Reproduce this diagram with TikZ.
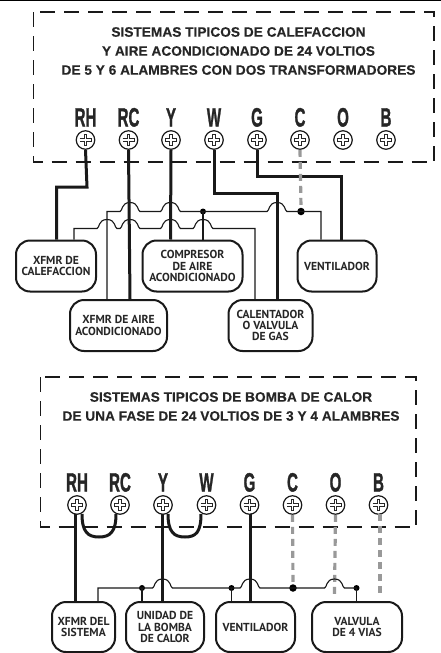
\documentclass[tikz,border=0pt]{standalone}
\usepackage{fontspec}
\setmainfont{Liberation Sans}
\newfontfamily\boxfont{PT Sans}
\newfontfamily\termfont[FakeBold=1.6]{Liberation Sans Bold}
\newfontfamily\titlefont[FakeBold=0.25]{Liberation Sans Bold}
\tikzset{
  dashbox/.style={draw=black!90,line width=1.6pt,dash pattern=on 15pt off 9pt},
  wire/.style={draw=black!90,line width=3pt,line join=miter},
  thin wire/.style={draw=black!90,line width=1.1pt},
  grey wire/.style={draw=black!40,line width=3.2pt,dash pattern=on 7pt off 5pt},
  unit/.style={draw=black!90,line width=2pt,rounded corners=14pt,fill=white,align=center,
     inner sep=0pt,font=\boxfont\bfseries\fontsize{11.6}{11.4}\selectfont,text=black!85},
  title/.style={align=center,font=\titlefont\fontsize{13.7}{19}\selectfont,text=black!85},
  term/.style={font=\termfont\fontsize{26.5}{26.5}\selectfont,xscale=.57,inner sep=0pt,text=black!85,anchor=base},
  screw/.style={circle,draw=black!90,line width=1.2pt,fill=white,minimum size=18.5pt,inner sep=0pt,
    path picture={
      \draw[black!85,line width=3.2pt] ([xshift=-6pt]path picture bounding box.center)--([xshift=6pt]path picture bounding box.center);
      \draw[black!85,line width=3.2pt] ([yshift=-6pt]path picture bounding box.center)--([yshift=6pt]path picture bounding box.center);
      \draw[white,line width=1.7pt] ([xshift=-5.4pt]path picture bounding box.center)--([xshift=5.4pt]path picture bounding box.center);
      \draw[white,line width=1.7pt] ([yshift=-5.4pt]path picture bounding box.center)--([yshift=5.4pt]path picture bounding box.center);
    }},
  joint/.style={circle,fill=black,inner sep=0pt,minimum size=#1}
}
% hop over a vertical wire at x=#1, on a horizontal run at y=#2
\newcommand{\hopat}[2]{-- (#1-10,#2) .. controls (#1-7.5,#2) and (#1-9,#2-9) .. (#1,#2-9) .. controls (#1+9,#2-9) and (#1+7.5,#2) .. (#1+10,#2)}
\begin{document}
\begin{tikzpicture}[x=1pt,y=-1pt]
\useasboundingbox (0,0) rectangle (441,653);
\fill[black] (0,0) rectangle (441,1.2);

% ---------- upper panel
\draw[dashbox] (33.5,12) rectangle (434,162);
\node[title] (t1title) at (238.5,51) {SISTEMAS TIPICOS DE CALEFACCION\\Y AIRE ACONDICIONADO DE 24 VOLTIOS\\DE 5 Y 6 ALAMBRES CON DOS TRANSFORMADORES};

\foreach \n/\x/\l in {a1/85.5/RH,a2/128.5/RC,a3/171/Y,a4/214/W,a5/257/G,a6/300/C,a7/343/O,a8/386/B}{
  \node[term] (l\n) at (\x,126.5) {\l};
}

\node[unit,minimum width=80pt,minimum height=51pt] (xc) at (56,266) {XFMR DE\\CALEFACCION};
\node[unit,minimum width=100pt,minimum height=51pt] (cp) at (192.5,266) {COMPRESOR\\DE AIRE\\ACONDICIONADO};
\node[unit,minimum width=79pt,minimum height=51pt] (vn) at (337,266) {VENTILADOR};
\node[unit,minimum width=97pt,minimum height=51pt] (xa) at (118.5,325.5) {XFMR DE AIRE\\ACONDICIONADO};
\node[unit,minimum width=84pt,minimum height=51pt] (ca) at (270.5,325.5) {CALENTADOR\\O VALVULA\\DE GAS};

\foreach \n/\x in {a1/85.5,a2/128.5,a3/171,a4/214,a5/257,a6/300,a7/343,a8/386}{
  \node[screw] (\n) at (\x,140) {};
}
\node[joint=7.5pt] (ja) at (301,211.5) {};
\node[joint=6pt] (jb) at (203,211.5) {};

\draw[wire] (a1.south) -- (87,187) -- (56.5,187) -- (56.5,0 |- xc.north);
\draw[wire] (a2.south) -- (130,0 |- xa.north);
\draw[wire] (a3.south) -- (170.5,0 |- cp.north);
\draw[wire] (a4.south) -- (214,193.5) -- (277,193.5) -- (277,0 |- ca.north);
\draw[wire] (a5.south) -- (257,176) -- (341,176) -- (341,0 |- vn.north);
\draw[grey wire] (a6.south) -- (ja.north);

\draw[thin wire] (107,0 |- xa.north) -- (107,211.5) \hopat{130}{211.5} \hopat{170.5}{211.5} -- (jb.center) \hopat{277}{211.5} -- (ja.center) -- (321,211.5) -- (321,0 |- vn.north);
\draw[thin wire] (74,0 |- xc.north) -- (74,228.5) \hopat{107}{228.5} \hopat{130}{228.5} \hopat{170.5}{228.5} \hopat{203}{228.5} -- (255,228.5) -- (255,0 |- ca.north);
\draw[thin wire] (jb.center) -- (203,0 |- cp.north);

% ---------- lower panel
\draw[dashbox] (40.5,377) rectangle (416,527);
\node[title] (t2title) at (231,406.5) {SISTEMAS TIPICOS DE BOMBA DE CALOR\\DE UNA FASE DE 24 VOLTIOS DE 3 Y 4 ALAMBRES};

\foreach \n/\x/\l in {b1/77/RH,b2/120/RC,b3/163/Y,b4/206.5/W,b5/249.5/G,b6/292.5/C,b7/335.5/O,b8/378.5/B}{
  \node[term] (l\n) at (\x,491.5) {\l};
}

\node[unit,minimum width=63pt,minimum height=50pt] (xs) at (83.5,627) {XFMR DEL\\SISTEMA};
\node[unit,minimum width=78pt,minimum height=50pt] (ub) at (165,627) {UNIDAD DE\\LA BOMBA\\DE CALOR};
\node[unit,minimum width=79pt,minimum height=50pt] (v2) at (255.5,627) {VENTILADOR};
\node[unit,minimum width=90pt,minimum height=50pt] (vv) at (357,627) {VALVULA\\DE 4 VIAS};

\foreach \n/\x in {b1/77,b2/120,b3/163,b4/206.5,b5/249.5,b6/292.5,b7/335.5,b8/378.5}{
  \node[screw] (\n) at (\x,505) {};
}
\node[joint=6pt] (jc) at (142,588) {};
\node[joint=6pt] (jd) at (231.5,588) {};
\node[joint=7.5pt] (je) at (293,588) {};
\node[joint=6pt] (jf) at (356.5,588) {};
\coordinate (oe) at (334.5,594);
\coordinate (be) at (380,594);

\draw[wire] (75.5,514) -- (75.5,0 |- xs.north);
\draw[wire] (162.5,514) -- (162.5,0 |- ub.north);
\draw[wire] (250,514) -- (250,0 |- v2.north);
\draw[wire] (82,514) .. controls (82,532) and (88,537) .. (99,537) .. controls (110,537) and (116,532) .. (116,514);
\draw[wire] (168,514) .. controls (168,532) and (174,537) .. (185,537) .. controls (196,537) and (201,532) .. (201,514);
\draw[grey wire] (b6.south) -- (je.north);
\draw[grey wire] (b7.south) -- (oe);
\draw[grey wire] (380,514) -- (be);

\draw[thin wire] (98,0 |- xs.north) -- (98,588) -- (jc.center) \hopat{162.5}{588} -- (jd.center) \hopat{250}{588} -- (je.center) \hopat{334.5}{588} -- (jf.center);
\draw[thin wire] (jc.center) -- (142,0 |- ub.north);
\draw[thin wire] (jd.center) -- (231.5,0 |- v2.north);
\draw[thin wire] (jf.center) -- (356.5,0 |- vv.north);
\end{tikzpicture}
\end{document}
